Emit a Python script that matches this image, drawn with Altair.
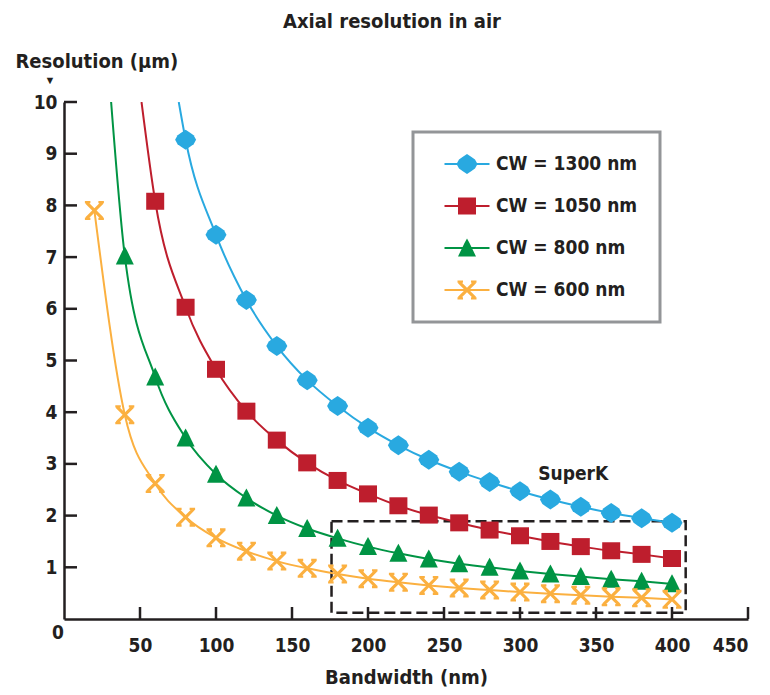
import altair as alt
import pandas as pd

FONT = "Liberation Sans Narrow, DejaVu Sans Condensed, Liberation Sans, sans-serif"
INK = "#231f20"

series = ["CW = 1300 nm", "CW = 1050 nm", "CW = 800 nm", "CW = 600 nm"]
colors = ["#29a9e0", "#be1e2d", "#009444", "#fbb040"]

# values (bandwidth in nm, resolution in um)
bw_1300 = [80, 100, 120, 140, 160, 180, 200, 220, 240, 260, 280, 300, 320, 340, 360, 380, 400]
res_1300 = [9.27, 7.43, 6.17, 5.28, 4.62, 4.12, 3.70, 3.36, 3.08, 2.85, 2.65, 2.47, 2.31, 2.17, 2.05, 1.95, 1.86]

bw_1050 = [60, 80, 100, 120, 140, 160, 180, 200, 220, 240, 260, 280, 300, 320, 340, 360, 380, 400]
res_1050 = [8.08, 6.03, 4.83, 4.02, 3.46, 3.02, 2.68, 2.42, 2.19, 2.01, 1.86, 1.72, 1.61, 1.50, 1.40, 1.32, 1.25, 1.17]

bw_800 = [40, 60, 80, 100, 120, 140, 160, 180, 200, 220, 240, 260, 280, 300, 320, 340, 360, 380, 400]
res_800 = [7.02, 4.68, 3.50, 2.80, 2.34, 2.00, 1.75, 1.56, 1.40, 1.27, 1.16, 1.07, 1.00, 0.93, 0.87, 0.82, 0.77, 0.73, 0.68]

bw_600 = [20, 40, 60, 80, 100, 120, 140, 160, 180, 200, 220, 240, 260, 280, 300, 320, 340, 360, 380, 400]
res_600 = [7.90, 3.95, 2.62, 1.97, 1.57, 1.31, 1.12, 0.98, 0.87, 0.78, 0.71, 0.65, 0.60, 0.56, 0.52, 0.49, 0.46, 0.43, 0.41, 0.38]

# where each curve leaves the top of the plot (resolution = 10)
curve_top_bw = [75.5, 51.0, 31.0, None]
curve_top_res = [10, 10, 10, None]

x_ticks = [50, 100, 150, 200, 250, 300, 350, 400, 450]
y_ticks = [1, 2, 3, 4, 5, 6, 7, 8, 9, 10]

superk_bw = [176, 409]
superk_res = [0.12, 1.89]
superk_label = "SuperK"
superk_label_pos = [335, 2.8]

bws = [bw_1300, bw_1050, bw_800, bw_600]
ress = [res_1300, res_1050, res_800, res_600]

marker_paths = [
    "M0,-1L0.45,-0.7L0.8,-0.45L1.05,0L0.8,0.45L0.45,0.7L0,1L-0.45,0.7L-0.8,0.45L-1.05,0L-0.8,-0.45L-0.45,-0.7Z",
    "M-0.9,-0.85H0.9V0.85H-0.9Z",
    "M0,-0.95L0.25,-0.5L0.9,0.85H-0.9L-0.25,-0.5Z",
    "M-0.9,-0.68L-0.68,-0.9L0,-0.22L0.68,-0.9L0.9,-0.68L0.22,0L0.9,0.68L0.68,0.9L0,0.22L-0.68,0.9L-0.9,0.68L-0.22,0Z"
    "M-0.95,-0.95H-0.4V-0.72H-0.95Z M0.4,-0.95H0.95V-0.72H0.4Z M-0.95,0.72H-0.4V0.95H-0.95Z M0.4,0.72H0.95V0.95H0.4Z",
]
legend_bar = " M-2.25,-0.1H2.25V0.1H-2.25Z"
legend_paths = [p + legend_bar for p in marker_paths]

W, H = 684, 517

X = alt.X("bw:Q", scale=alt.Scale(domain=[0, 450], nice=False, zero=False),
          axis=alt.Axis(values=x_ticks, title="Bandwidth (nm)", ticks=False, grid=False,
                        labelPadding=17, titleY=58, titleBaseline="middle"))
Y = alt.Y("res:Q", scale=alt.Scale(domain=[0, 10], nice=False),
          axis=alt.Axis(values=y_ticks, title="Resolution (µm)", ticks=False, grid=False,
                        labelPadding=7, titleAngle=0, titleAlign="left", titleBaseline="middle",
                        titleX=-49, titleY=-41))

layers = []

# SuperK dashed box
box_df = pd.DataFrame({"bw": [superk_bw[0]], "bw2": [superk_bw[1]],
                       "res": [superk_res[0]], "res2": [superk_res[1]]})
layers.append(alt.Chart(box_df).mark_rect(fillOpacity=0, stroke=INK, strokeWidth=2.5,
                                          strokeDash=[11, 5]).encode(
    x=X, x2="bw2:Q", y=Y, y2="res2:Q"))

# curves
for i, s in enumerate(series):
    xs = list(bws[i])
    ys = list(ress[i])
    if curve_top_bw[i] is not None:
        xs = [curve_top_bw[i]] + xs
        ys = [curve_top_res[i]] + ys
    ldf = pd.DataFrame({"bw": xs, "res": ys})
    layers.append(alt.Chart(ldf).mark_line(color=colors[i], strokeWidth=2,
                                           interpolate="monotone", clip=True).encode(x=X, y=Y))

# markers
for i, s in enumerate(series):
    pdf = pd.DataFrame({"bw": bws[i], "res": ress[i]})
    layers.append(alt.Chart(pdf).mark_point(shape=marker_paths[i], filled=True, size=400,
                                            opacity=1, color=colors[i]).encode(x=X, y=Y))

# inward tick marks
layers.append(alt.Chart(pd.DataFrame({"bw": x_ticks})).mark_rule(color=INK, strokeWidth=2.5).encode(
    x=X, y=alt.value(H), y2=alt.value(H - 12)))
layers.append(alt.Chart(pd.DataFrame({"res": y_ticks})).mark_rule(color=INK, strokeWidth=2.5).encode(
    y=Y, x=alt.value(0), x2=alt.value(13)))

# annotations
ann = pd.DataFrame({"bw": [superk_label_pos[0]], "res": [superk_label_pos[1]], "t": [superk_label]})
layers.append(alt.Chart(ann).mark_text(font=FONT, fontSize=19, fontWeight="bold", color=INK).encode(
    x=X, y=Y, text="t:N"))
origin = pd.DataFrame({"bw": [0], "res": [0], "t": ["0"]})
layers.append(alt.Chart(origin).mark_text(font=FONT, fontSize=19, fontWeight="bold", color=INK,
                                          dx=-6, dy=14).encode(x=X, y=Y, text="t:N"))
arrow = pd.DataFrame({"bw": [0], "res": [10], "t": ["▼"]})
layers.append(alt.Chart(arrow).mark_text(fontSize=11, color=INK, dx=-14, dy=-21).encode(
    x=X, y=Y, text="t:N"))

# legend carrier (no marks drawn, only the legend)
leg = alt.Legend(title=None, orient="none", legendX=349, legendY=30, padding=22,
                 symbolOffset=22, strokeColor="#939598", fillColor="white",
                 labelFont=FONT, labelFontSize=19, labelFontWeight="bold", labelColor=INK,
                 labelOffset=19, labelLimit=400, rowPadding=22, symbolSize=400,
                 symbolStrokeWidth=0, labelExpr="datum.label + '\u2002\u2009\u2009'")
all_df = pd.DataFrame({
    "bw": sum(bws, []),
    "res": sum(ress, []),
    "series": sum([[s] * len(b) for s, b in zip(series, bws)], []),
})
layers.append(alt.Chart(all_df).transform_filter("false").mark_point(filled=True, size=400, opacity=1).encode(
    x=X, y=Y,
    color=alt.Color("series:N", scale=alt.Scale(domain=series, range=colors), legend=leg),
    shape=alt.Shape("series:N", scale=alt.Scale(domain=series, range=legend_paths), legend=leg),
))

chart = alt.layer(*layers).properties(
    width=W, height=H,
    title=alt.TitleParams("Axial resolution in air", font=FONT, fontSize=20, fontWeight="bold",
                          color=INK, anchor="middle", dx=-14, offset=19),
    autosize=alt.AutoSizeParams(type="none"),
    padding={"left": 56, "top": 94, "right": 14, "bottom": 72},
).configure_axis(
    domainColor=INK, domainWidth=2.5, labelFont=FONT, labelFontSize=19, labelFontWeight="bold",
    labelColor=INK, titleFont=FONT, titleFontSize=20, titleFontWeight="bold", titleColor=INK,
).configure_legend(
    strokeWidth=3, cornerRadius=0,
).configure_view(strokeWidth=0)

chart.save("out.html", embed_options={"renderer": "svg", "actions": False})
